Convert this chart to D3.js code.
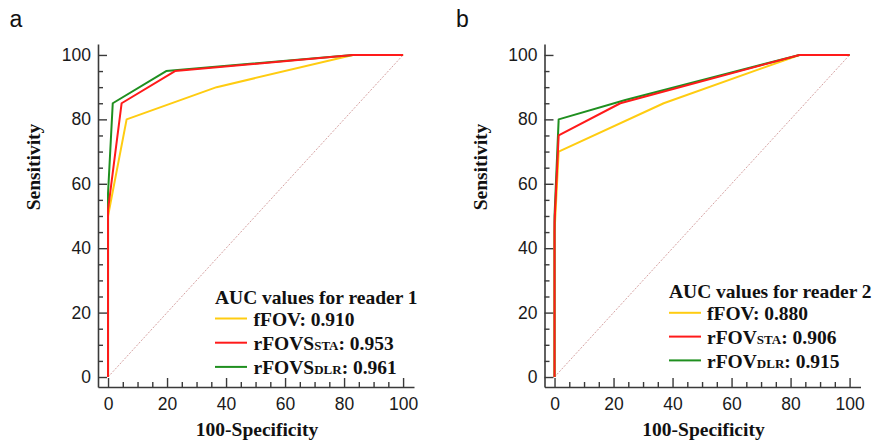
<!DOCTYPE html>
<html>
<head>
<meta charset="utf-8">
<script src="https://cdn.jsdelivr.net/npm/d3@7"></script>
<style>
  body { margin: 0; background: #fff; }
  .tick text { fill: #1a1a1a; }
</style>
</head>
<body>
<div id="chart"></div>
<script>
// tick labels
var xTicks = [0, 20, 40, 60, 80, 100];
var yTicks = [0, 20, 40, 60, 80, 100];

// ROC points [100-Specificity, Sensitivity], reader 1
var reader1Ffov = [[0, 0], [0, 50], [6.3, 80], [36.8, 90], [83, 100], [100, 100]];
var reader1Sta = [[0, 0], [0, 52], [4.6, 85], [22.7, 95], [83, 100], [100, 100]];
var reader1Dlr = [[0, 0], [0, 57], [1.6, 85], [19.7, 95], [83, 100], [100, 100]];

// reader 2
var reader2Ffov = [[0, 0], [0, 45], [1.4, 70], [37, 85], [83, 100], [100, 100]];
var reader2Sta = [[0, 0], [0, 48], [1.4, 75], [22.3, 85], [83, 100], [100, 100]];
var reader2Dlr = [[0, 0], [0, 50], [1.4, 80], [24, 86], [83, 100], [100, 100]];

var diagonal = [[0, 0], [100, 100]];

// legend texts
var legendTitles = ["AUC values for reader 1", "AUC values for reader 2"];
var reader1Names = [["fFOV", ""], ["rFOVS", "STA"], ["rFOVS", "DLR"]];
var reader2Names = [["fFOV", ""], ["rFOV", "STA"], ["rFOV", "DLR"]];
var reader1Auc = ["0.910", "0.953", "0.961"];
var reader2Auc = ["0.880", "0.906", "0.915"];

var seriesColors = ["#ffcc11", "#ff1a1a", "#1f8f1f"];

//Define SVG area
var svgWidth = 875;
var svgHeight = 442;

var svg = d3.select("#chart")
    .append("svg")
    .attr("width", svgWidth)
    .attr("height", svgHeight);

var panels = [
    { letter: "a", dx: 0, title: legendTitles[0], names: reader1Names, auc: reader1Auc,
      series: [reader1Ffov, reader1Sta, reader1Dlr],
      legend: { x: 215, titleY: 304, lineY: 318.5, step: 24.2, lineW: 32, textX: 253.5 } },
    { letter: "b", dx: 446.5, title: legendTitles[1], names: reader2Names, auc: reader2Auc,
      series: [reader2Ffov, reader2Sta, reader2Dlr],
      legend: { x: 222.5, titleY: 298, lineY: 312.8, step: 23.8, lineW: 32, textX: 260.5 } }
];

var x = d3.scaleLinear().domain([-3.4, 103.7]).range([98, 414]);
var y = d3.scaleLinear().domain([-3.1, 103.4]).range([387, 44]);

var line = d3.line()
    .x(d => x(d[0]))
    .y(d => y(d[1]));

var minorTicks = d3.range(0, 101, 5).filter(v => v % 20 !== 0);

function styleAxis(g) {
    g.select(".domain").attr("stroke", "#3a3a3a").attr("stroke-width", 1.6);
    g.selectAll(".tick line").attr("stroke", "#3a3a3a").attr("stroke-width", 1.4);
    g.selectAll(".tick text")
        .attr("font-family", "'Liberation Sans', Arial, sans-serif")
        .attr("font-size", "17.5px");
}

panels.forEach(function (p) {
    var g = svg.append("g").attr("transform", `translate(${p.dx}, 0)`);

    // panel letter
    g.append("text")
        .attr("x", 9.5)
        .attr("y", 27)
        .attr("font-family", "'Liberation Sans', Arial, sans-serif")
        .attr("font-size", "23px")
        .attr("fill", "#111")
        .text(p.letter);

    // axes
    g.append("g")
        .attr("transform", "translate(98, 0)")
        .call(d3.axisLeft(y).tickValues(yTicks).tickSize(-9).tickSizeOuter(0).tickPadding(7))
        .call(styleAxis);
    g.append("g")
        .attr("transform", "translate(98, 0)")
        .call(d3.axisLeft(y).tickValues(minorTicks).tickSize(-5).tickFormat(""))
        .call(a => a.select(".domain").remove())
        .call(styleAxis);

    g.append("g")
        .attr("transform", "translate(0, 387)")
        .call(d3.axisBottom(x).tickValues(xTicks).tickSize(-9).tickSizeOuter(0).tickPadding(11))
        .call(styleAxis);
    g.append("g")
        .attr("transform", "translate(0, 387)")
        .call(d3.axisBottom(x).tickValues(minorTicks).tickSize(-5).tickFormat(""))
        .call(a => a.select(".domain").remove())
        .call(styleAxis);

    // axis titles
    g.append("text")
        .attr("transform", "translate(40, 167) rotate(-90)")
        .attr("text-anchor", "middle")
        .attr("font-family", "'Liberation Serif', 'Times New Roman', serif")
        .attr("font-weight", "bold")
        .attr("font-size", "19.5px")
        .attr("fill", "#111")
        .text("Sensitivity");

    g.append("text")
        .attr("x", 257)
        .attr("y", 435.5)
        .attr("text-anchor", "middle")
        .attr("font-family", "'Liberation Serif', 'Times New Roman', serif")
        .attr("font-weight", "bold")
        .attr("font-size", "19.5px")
        .attr("fill", "#111")
        .text("100-Specificity");

    // reference diagonal
    g.append("path")
        .attr("d", line(diagonal))
        .attr("fill", "none")
        .attr("stroke", "#d6a2a2")
        .attr("stroke-width", 1)
        .attr("stroke-dasharray", "2,1.5");

    // ROC curves: fFOV, DLR, then STA on top
    [0, 2, 1].forEach(function (i) {
        g.append("path")
            .attr("d", line(p.series[i]))
            .attr("fill", "none")
            .attr("stroke", seriesColors[i])
            .attr("stroke-width", 2)
            .attr("stroke-linejoin", "round");
    });

    // legend
    var L = p.legend;
    var lg = g.append("g")
        .attr("font-family", "'Liberation Serif', 'Times New Roman', serif")
        .attr("font-weight", "bold")
        .attr("fill", "#111");

    lg.append("text")
        .attr("x", L.x)
        .attr("y", L.titleY)
        .attr("font-size", "19.5px")
        .text(p.title);

    p.names.forEach(function (n, i) {
        var ly = L.lineY + i * L.step;
        lg.append("line")
            .attr("x1", L.x)
            .attr("x2", L.x + L.lineW)
            .attr("y1", ly)
            .attr("y2", ly)
            .attr("stroke", seriesColors[i])
            .attr("stroke-width", 2);

        var t = lg.append("text")
            .attr("x", L.textX)
            .attr("y", ly + 7.5)
            .attr("font-size", "19.5px");
        t.append("tspan").text(n[0]);
        if (n[1]) {
            t.append("tspan").attr("font-size", "13px").text(n[1]);
        }
        t.append("tspan").text(": " + p.auc[i]);
    });
});
</script>
</body>
</html>
